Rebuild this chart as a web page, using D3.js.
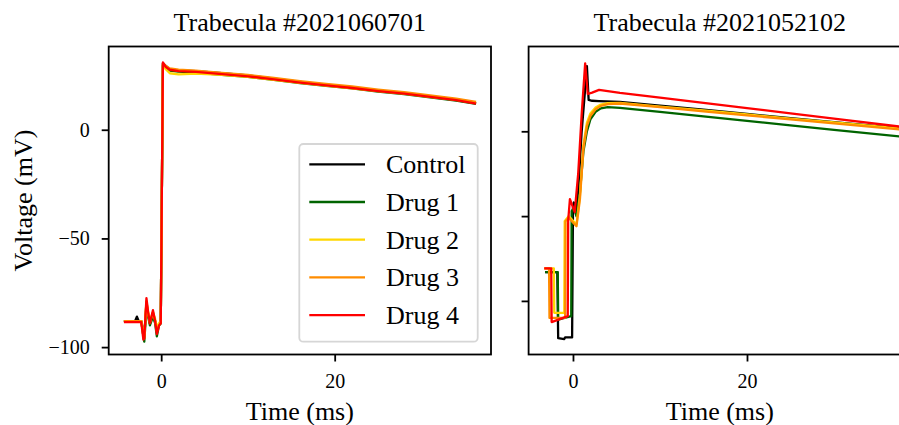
<!DOCTYPE html>
<html><head><meta charset="utf-8">
<script src="https://cdn.jsdelivr.net/npm/d3@7"></script>
<style>
body{margin:0;background:#fff}
svg{display:block}
text{font-family:"Liberation Serif","Times New Roman",serif;fill:#000}
</style>
</head><body>
<svg id="chart" width="899" height="425"></svg>
<script>
// ---------- data ----------
const seriesNames  = ["Control", "Drug 1", "Drug 2", "Drug 3", "Drug 4"];
const seriesColors = ["#000000", "#006400", "#ffd700", "#ff8c00", "#ff0000"];
const panelTitles  = ["Trabecula #2021060701", "Trabecula #2021052102"];
const xTickValues  = [0, 20];
const yTickValues  = [0, -50, -100];
const yTickLabels  = ["0", "\u221250", "\u2212100"];
const xLabel = "Time (ms)";
const yLabel = "Voltage (mV)";

// Left panel (Trabecula #2021060701): shared time axis (ms)
const leftTime = [-4.3, -3.0, -2.8, -2.6, -2.3, -2.05, -1.95, -1.7, -1.5, -1.3, -0.95, -0.7, -0.5, -0.25, -0.05,
                  0.2, 0.5, 1.0, 2.0, 4.0, 7.0, 10.0, 13.0, 16.0, 19.0, 22.0, 25.0, 28.0, 31.0, 34.0, 36.3];
const leftControl = [-88, -88, -86, -88, -88, -93, -95, -80, -85, -89, -85, -88, -92, -90, -89,
                     30.5, 29.5, 27.8, 27.3, 27.0, 26.0, 25.0, 23.5, 22.0, 20.7, 19.5, 18.0, 16.8, 15.3, 13.8, 12.2];
const leftDrug1 = [-88, -88, -88, -88, -88, -95, -97.5, -82, -86, -90, -86, -89, -95, -90, -89,
                   29.5, 28.5, 27.2, 26.7, 26.3, 25.3, 24.3, 22.9, 21.5, 20.2, 19.0, 17.6, 16.4, 14.9, 13.4, 11.9];
const leftDrug2 = [-88, -88, -88, -88, -88, -94, -95, -79, -84, -88, -84, -87, -91, -89, -88,
                   30, 28, 26, 25.5, 25.8, 25.2, 24.3, 23.0, 21.6, 20.3, 19.1, 17.8, 16.6, 15.1, 13.7, 12.3];
const leftDrug3 = [-88, -88, -88, -88, -88, -95, -96, -79, -85, -89, -84, -88, -93, -90, -89,
                   30.5, 29.5, 28.2, 27.6, 27.2, 26.2, 25.2, 23.8, 22.4, 21.1, 19.9, 18.5, 17.3, 15.8, 14.3, 12.8];
const leftDrug4 = [-88.5, -88.5, -88.5, -88.5, -88.5, -96.5, -96, -77.5, -84, -89, -83, -88, -94, -90, -89,
                   31, 29, 27.6, 27.0, 26.6, 25.6, 24.6, 23.2, 21.7, 20.4, 19.2, 17.8, 16.6, 15.1, 13.6, 12.0];

// Right panel (Trabecula #2021052102): time and voltage per series
const rightControlTime = [-3.2, -1.8, -1.7, -1.0, -0.9, -0.1, 0.0, 0.1, 0.3, 0.6, 1.0, 1.4, 1.6, 1.8, 2.2, 3.0, 5.4, 10, 15, 20, 25, 30, 38.5];
const rightControl     = [-83, -83, -122, -122.5, -121.5, -121.5, -45, -42, -47, -35, 0, 25, 38.4, 18.5, 18, 17.8, 17.3, 15.1, 12.7, 10.2, 7.8, 5.4, 1.3];
const rightDrug1Time = [-3.2, -1.75, -1.7, -0.2, -0.15, 0.1, 0.4, 0.8, 1.2, 1.6, 2.0, 2.6, 3.2, 4.0, 5.4, 10, 15, 20, 25, 30, 38.5];
const rightDrug1     = [-83, -83, -111, -109, -47, -45, -50, -36, -12, 0, 7, 11.5, 13.5, 14.3, 13.8, 11.4, 8.8, 6.2, 3.5, 0.9, -3.5];
const rightDrug2Time = [-3.3, -2.2, -2.15, -1.0, -0.95, -0.5, 0.4, 0.8, 1.2, 1.6, 2.0, 2.6, 3.2, 4.0, 5.4, 10, 15, 20, 25, 30, 38.5];
const rightDrug2     = [-80.8, -80.8, -107, -107, -53, -50, -55, -38, -8, 5, 10.5, 14, 15.8, 16.6, 16.8, 14.6, 12.3, 9.9, 7.5, 5.2, 1.2];
const rightDrug3Time = [-3.3, -2.75, -2.7, -0.9, -0.85, -0.5, 0.4, 0.8, 1.2, 1.6, 2.0, 2.6, 3.2, 4.0, 5.4, 10, 15, 20, 25, 30, 38.5];
const rightDrug3     = [-80.8, -80.8, -110, -110, -53, -51, -56, -40, -10, 3, 9, 13, 15, 16, 16.4, 14.2, 11.8, 9.4, 7.0, 4.7, 0.7];
const rightDrug4Time = [-3.3, -2.5, -2.45, -0.6, -0.55, -0.35, 0.2, 0.6, 1.0, 1.4, 1.7, 2.2, 3.0, 5.4, 10, 15, 20, 25, 30, 38.5];
const rightDrug4     = [-80.8, -80.8, -112.5, -109, -52.6, -40, -47.7, -25, 10, 40, 22, 22.8, 24.4, 22.6, 19.8, 16.7, 13.7, 10.6, 7.5, 2.2];

// ---------- build ----------
const leftSeries = [leftControl, leftDrug1, leftDrug2, leftDrug3, leftDrug4]
  .map(v => v.map((yv, i) => [leftTime[i], yv]));
const rightSeries = [[rightControlTime, rightControl], [rightDrug1Time, rightDrug1], [rightDrug2Time, rightDrug2],
                     [rightDrug3Time, rightDrug3], [rightDrug4Time, rightDrug4]]
  .map(([t, v]) => v.map((yv, i) => [t[i], yv]));

const svg = d3.select("#chart");
const plotTop = 46.5, plotBottom = 354.5;

const panels = [
  { x0: 108.7, x1: 491, xDom: [-6.05, 38.02], yDom: [-103.4, 38.3], series: leftSeries, labels: true, title: panelTitles[0] },
  { x0: 528.6, x1: 911, xDom: [-5.10, 38.85], yDom: [-131.6, 50.0], series: rightSeries, labels: false, title: panelTitles[1] }
];

panels.forEach((p, pi) => {
  const x = d3.scaleLinear().domain(p.xDom).range([p.x0, p.x1]);
  const y = d3.scaleLinear().domain(p.yDom).range([plotBottom, plotTop]);
  const g = svg.append("g");
  const clipId = "clip" + pi;
  svg.append("clipPath").attr("id", clipId).append("rect")
    .attr("x", p.x0).attr("y", plotTop).attr("width", p.x1 - p.x0).attr("height", plotBottom - plotTop);

  const line = d3.line().x(d => x(d[0])).y(d => y(d[1]));
  const lg = g.append("g").attr("clip-path", `url(#${clipId})`);
  p.series.forEach((s, si) => {
    lg.append("path").datum(s).attr("d", line)
      .attr("fill", "none").attr("stroke", seriesColors[si])
      .attr("stroke-width", 2.3).attr("stroke-linejoin", "round").attr("stroke-linecap", "butt");
  });

  // x axis
  const xa = g.append("g").attr("transform", `translate(0,${plotBottom})`)
    .call(d3.axisBottom(x).tickValues(xTickValues).tickSize(7).tickPadding(12).tickFormat(d3.format("d")));
  xa.select(".domain").remove();
  xa.selectAll(".tick line").attr("stroke", "#000").attr("stroke-width", 1.8);
  xa.selectAll(".tick text").style("font-family", '"Liberation Serif", serif').style("font-size", "20px").attr("fill", "#000");

  // y axis
  const ya = g.append("g").attr("transform", `translate(${p.x0},0)`)
    .call(d3.axisLeft(y).tickValues(yTickValues).tickSize(7).tickPadding(12)
      .tickFormat((d, i) => p.labels ? yTickLabels[i] : ""));
  ya.select(".domain").remove();
  ya.selectAll(".tick line").attr("stroke", "#000").attr("stroke-width", 1.8);
  ya.selectAll(".tick text").style("font-family", '"Liberation Serif", serif').style("font-size", "20px").attr("fill", "#000");

  // frame
  g.append("rect").attr("x", p.x0).attr("y", plotTop).attr("width", p.x1 - p.x0).attr("height", plotBottom - plotTop)
    .attr("fill", "none").attr("stroke", "#000").attr("stroke-width", 1.8);

  // title
  g.append("text").attr("x", (p.x0 + p.x1) / 2).attr("y", 31).attr("text-anchor", "middle")
    .style("font-size", "26px").text(p.title);
  // x label
  g.append("text").attr("x", (p.x0 + p.x1) / 2).attr("y", 420).attr("text-anchor", "middle")
    .style("font-size", "26px").text(xLabel);
});

// y label
svg.append("text").attr("transform", `translate(32,${(plotTop + plotBottom) / 2}) rotate(-90)`)
  .attr("text-anchor", "middle").style("font-size", "26px").text(yLabel);

// legend
const leg = svg.append("g");
leg.append("rect").attr("x", 299.3).attr("y", 144).attr("width", 178.4).attr("height", 197.7)
  .attr("rx", 4).attr("fill", "#fff").attr("fill-opacity", 0.8)
  .attr("stroke", "#d6d6d6").attr("stroke-width", 1.8);
seriesNames.forEach((n, i) => {
  const cy = 164.3 + i * 37.7;
  leg.append("line").attr("x1", 309.3).attr("x2", 365).attr("y1", cy).attr("y2", cy)
    .attr("stroke", seriesColors[i]).attr("stroke-width", 2.3);
  leg.append("text").attr("x", 386).attr("y", cy + 9).style("font-size", "26px").text(n);
});
</script>
</body></html>
